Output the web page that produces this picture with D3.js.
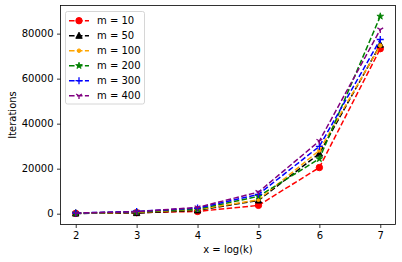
<!DOCTYPE html>
<html><head><meta charset="utf-8">
<script src="https://cdn.jsdelivr.net/npm/d3@7"></script>
<style>body{margin:0;background:#fff}svg{display:block;font-family:"DejaVu Sans",sans-serif}</style>
</head><body><svg id="c" width="402" height="262"></svg>
<script>
const xs = [2, 3, 4, 5, 6, 7];
const seriesNames = ["m = 10", "m = 50", "m = 100", "m = 200", "m = 300", "m = 400"];
const seriesColors = ["#ff0000", "#000000", "#ffa500", "#008000", "#0000ff", "#800080"];
const seriesMarkers = ["o", "^", ".", "*", "+", "1"];
const m10 = [150, 450, 1000, 3700, 20500, 73300];
const m50 = [100, 300, 1500, 5900, 26700, 75100];
const m100 = [200, 600, 1800, 6200, 28100, 74700];
const m200 = [250, 800, 2000, 7700, 24400, 87700];
const m300 = [300, 1000, 2500, 8600, 29900, 77400];
const m400 = [300, 900, 2800, 9600, 32300, 81800];
const allSeries = [m10, m50, m100, m200, m300, m400];
const yTicks = [0, 20000, 40000, 60000, 80000];

const svg = d3.select("#c");
const L = 60.5, R = 395.5, T = 5.5, B = 224.5;
const x = d3.scaleLinear().domain([1.75, 7.25]).range([L, R]);
const y = d3.scaleLinear().domain([-4800, 92500]).range([B, T]);

function marker(g, type, color, cx, cy) {
  if (type === "o") {
    g.append("circle").attr("cx", cx).attr("cy", cy).attr("r", 3.2).attr("fill", color).attr("stroke", color);
  } else if (type === "^") {
    g.append("path").attr("d", `M${cx},${cy-3.5}L${cx+3.2},${cy+2.6}L${cx-3.2},${cy+2.6}Z`).attr("fill", color).attr("stroke", color);
  } else if (type === ".") {
    g.append("circle").attr("cx", cx).attr("cy", cy).attr("r", 1.8).attr("fill", color).attr("stroke", color);
  } else if (type === "*") {
    g.append("path").attr("d", d3.symbol(d3.symbolStar, 14)()).attr("transform", `translate(${cx},${cy})`).attr("fill", color).attr("stroke", color).attr("stroke-width", 0.8);
  } else if (type === "+") {
    g.append("path").attr("d", `M${cx-3.5},${cy}H${cx+3.5}M${cx},${cy-3.5}V${cy+3.5}`).attr("stroke", color).attr("stroke-width", 1.3).attr("fill", "none");
  } else if (type === "1") {
    g.append("path").attr("d", `M${cx},${cy}V${cy+3.4}M${cx},${cy}L${cx-2.9},${cy-1.7}M${cx},${cy}L${cx+2.9},${cy-1.7}`).attr("stroke", color).attr("stroke-width", 1.3).attr("fill", "none");
  }
}

// axes
const gx = svg.append("g").attr("transform", `translate(0,${B})`)
  .call(d3.axisBottom(x).tickValues(xs).tickFormat(d3.format("d")).tickSize(3.5).tickPadding(3.5));
const gy = svg.append("g").attr("transform", `translate(${L},0)`)
  .call(d3.axisLeft(y).tickValues(yTicks).tickFormat(d3.format("d")).tickSize(3.5).tickPadding(3.5));
[gx, gy].forEach(g => {
  g.select(".domain").remove();
  g.selectAll("text").attr("font-size", 10).attr("fill", "#000").attr("font-family", "DejaVu Sans");
  g.selectAll("line").attr("stroke", "#000").attr("stroke-width", 0.8);
});

const plot = svg.append("g");
const line = d3.line().x((d, i) => x(xs[i])).y(d => y(d));
allSeries.forEach((s, k) => {
  plot.append("path").attr("d", line(s)).attr("fill", "none").attr("stroke", seriesColors[k])
    .attr("stroke-width", 1.5).attr("stroke-dasharray", "5.55,2.4");
  s.forEach((v, i) => marker(plot, seriesMarkers[k], seriesColors[k], x(xs[i]), y(v)));
});

svg.append("rect").attr("x", L).attr("y", T).attr("width", R - L).attr("height", B - T)
  .attr("fill", "none").attr("stroke", "#000").attr("stroke-width", 0.8);

// labels
svg.append("text").attr("x", (L + R) / 2).attr("y", 253).attr("text-anchor", "middle").attr("font-size", 10).text("x = log(k)");
svg.append("text").attr("transform", `translate(15.5,${(T + B) / 2}) rotate(-90)`).attr("text-anchor", "middle").attr("font-size", 10).text("Iterations");

// legend
const lg = svg.append("g");
lg.append("rect").attr("x", 65.5).attr("y", 11.5).attr("width", 79).attr("height", 92.5).attr("rx", 2)
  .attr("fill", "#fff").attr("fill-opacity", 0.8).attr("stroke", "#ccc").attr("stroke-width", 0.8);
seriesNames.forEach((n, k) => {
  const yy = 20.7 + k * 15;
  lg.append("line").attr("x1", 69).attr("x2", 89).attr("y1", yy).attr("y2", yy)
    .attr("stroke", seriesColors[k]).attr("stroke-width", 1.5).attr("stroke-dasharray", "5.55,2.4");
  marker(lg, seriesMarkers[k], seriesColors[k], 79, yy);
  lg.append("text").attr("x", 97).attr("y", yy + 3.6).attr("font-size", 10).text(n);
});
</script></body></html>
